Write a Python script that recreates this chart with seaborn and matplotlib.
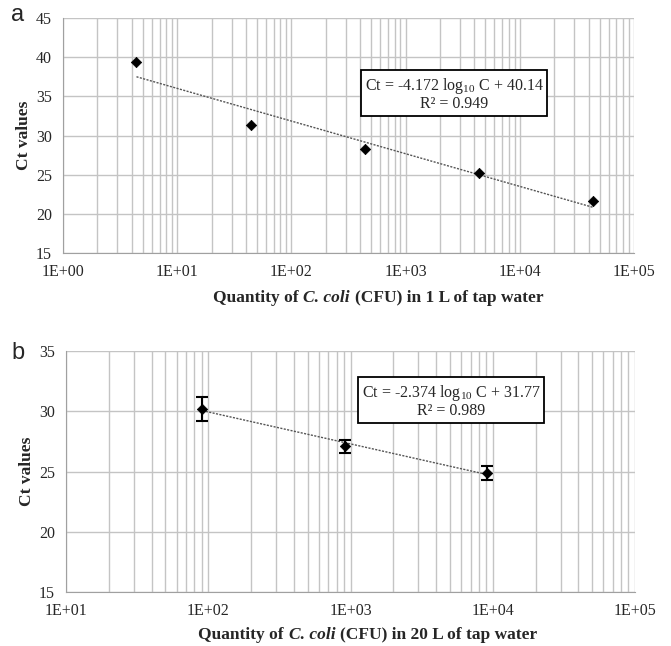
import numpy as np
import pandas as pd
import seaborn as sns
import matplotlib.pyplot as plt
from matplotlib.offsetbox import TextArea, HPacker, AnchoredOffsetbox

# panel a: 1 L of tap water
qty_a = [4.4, 44, 440, 4400, 44000]
ct_a = [39.4, 31.3, 28.3, 25.2, 21.6]
ticks_a = [1e0, 1e1, 1e2, 1e3, 1e4, 1e5]
ticklabels_a = ["1E+00", "1E+01", "1E+02", "1E+03", "1E+04", "1E+05"]
eq_a = "Ct = -4.172 log$_{10}$ C + 40.14\nR\u00b2 = 0.949"
xlab_a = ["Quantity of", "C. coli", "(CFU) in 1 L of tap water"]

# panel b: 20 L of tap water, with error bars
qty_b = [91, 910, 9100]
ct_b = [30.2, 27.1, 24.9]
err_b = [1.0, 0.55, 0.57]
ticks_b = [1e1, 1e2, 1e3, 1e4, 1e5]
ticklabels_b = ["1E+01", "1E+02", "1E+03", "1E+04", "1E+05"]
eq_b = "Ct = -2.374 log$_{10}$ C + 31.77\nR\u00b2 = 0.989"
xlab_b = ["Quantity of", "C. coli", "(CFU) in 20 L of tap water"]

sns.set_style("white")
plt.rcParams["font.family"] = ["Liberation Serif", "DejaVu Serif"]
plt.rcParams["mathtext.fontset"] = "custom"
plt.rcParams["mathtext.rm"] = "Liberation Serif"
plt.rcParams["mathtext.default"] = "regular"

W, H = 671, 646
fig = plt.figure(figsize=(W / 100, H / 100), dpi=100)
ax_a = fig.add_axes([63 / W, 1 - 253 / H, 571 / W, 235 / H])
ax_b = fig.add_axes([66 / W, 1 - 592 / H, 569 / W, 241 / H])

grid_col = "#c4c4c4"


def style_axis(ax, ticks, labels, ylim, ystep):
    ax.set_xscale("log")
    ax.set_xlim(ticks[0], ticks[-1])
    ax.set_ylim(*ylim)
    ax.set_xticks(ticks)
    ax.set_xticklabels(labels)
    ax.set_yticks(np.arange(ylim[0], ylim[1] + 1, ystep))
    ax.xaxis.set_minor_locator(plt.matplotlib.ticker.LogLocator(base=10, subs=np.arange(2, 10)))
    ax.xaxis.set_minor_formatter(plt.NullFormatter())
    ax.grid(which="both", axis="x", color=grid_col, lw=1)
    ax.grid(which="major", axis="y", color=grid_col, lw=1)
    ax.set_axisbelow(True)
    for s in ["top", "right"]:
        ax.spines[s].set_visible(False)
    for s in ["left", "bottom"]:
        ax.spines[s].set_color("#a0a0a0")
    ax.tick_params(axis="both", which="major", direction="out", length=5, width=1,
                   color="#a0a0a0", labelsize=11.5, pad=3)
    ax.tick_params(axis="x", which="minor", length=0)
    ax.set_xlabel("")
    ax.set_ylabel("Ct values", fontsize=12.5, fontweight="bold", labelpad=3)


def draw(ax, qty, ct):
    df = pd.DataFrame({"qty": qty, "ct": ct})
    slope, icpt = np.polyfit(np.log10(df["qty"]), df["ct"], 1)
    df["fit"] = slope * np.log10(df["qty"]) + icpt
    sns.lineplot(data=df, x="qty", y="fit", ax=ax, color="#555555", lw=1,
                 linestyle=(0, (1.5, 1)), zorder=3)
    sns.scatterplot(data=df, x="qty", y="ct", ax=ax, marker="D", color="black",
                    s=28, edgecolor="black", linewidth=0.5, zorder=4)


def xlabel(parts, cx, cy):
    bold = dict(fontsize=12.5, fontweight="bold")
    ital = dict(fontsize=12.5, fontweight="bold", fontstyle="italic")
    pack = HPacker(children=[TextArea(parts[0], textprops=bold),
                             TextArea(parts[1], textprops=ital),
                             TextArea(parts[2], textprops=bold)],
                   align="baseline", pad=0, sep=3.5)
    box = AnchoredOffsetbox(loc="center", child=pack, pad=0, borderpad=0, frameon=False,
                            bbox_to_anchor=(cx / W, 1 - cy / H),
                            bbox_transform=fig.transFigure)
    fig.add_artist(box)


draw(ax_a, qty_a, ct_a)
style_axis(ax_a, ticks_a, ticklabels_a, (15, 45), 5)
xlabel(xlab_a, 378, 298)

draw(ax_b, qty_b, ct_b)
ax_b.errorbar(qty_b, ct_b, yerr=err_b, fmt="none", ecolor="black", elinewidth=1.5,
              capsize=4, capthick=1.5, zorder=4)
style_axis(ax_b, ticks_b, ticklabels_b, (15, 35), 5)
xlabel(xlab_b, 368, 635)

box = dict(boxstyle="square,pad=0.25", fc="white", ec="black", lw=1.3)
fig.text(454 / W, 1 - 94 / H, eq_a, ha="center", va="center", fontsize=11.5,
         linespacing=1.0, bbox=box)
fig.text(451 / W, 1 - 401 / H, eq_b, ha="center", va="center", fontsize=11.5,
         linespacing=1.0, bbox=box)

fig.text(18 / W, 1 - 15 / H, "a", ha="center", va="center", fontsize=17,
         family=["Liberation Sans", "DejaVu Sans"])
fig.text(18 / W, 1 - 353 / H, "b", ha="center", va="center", fontsize=17,
         family=["Liberation Sans", "DejaVu Sans"])

fig.savefig("out.png", dpi=100)
